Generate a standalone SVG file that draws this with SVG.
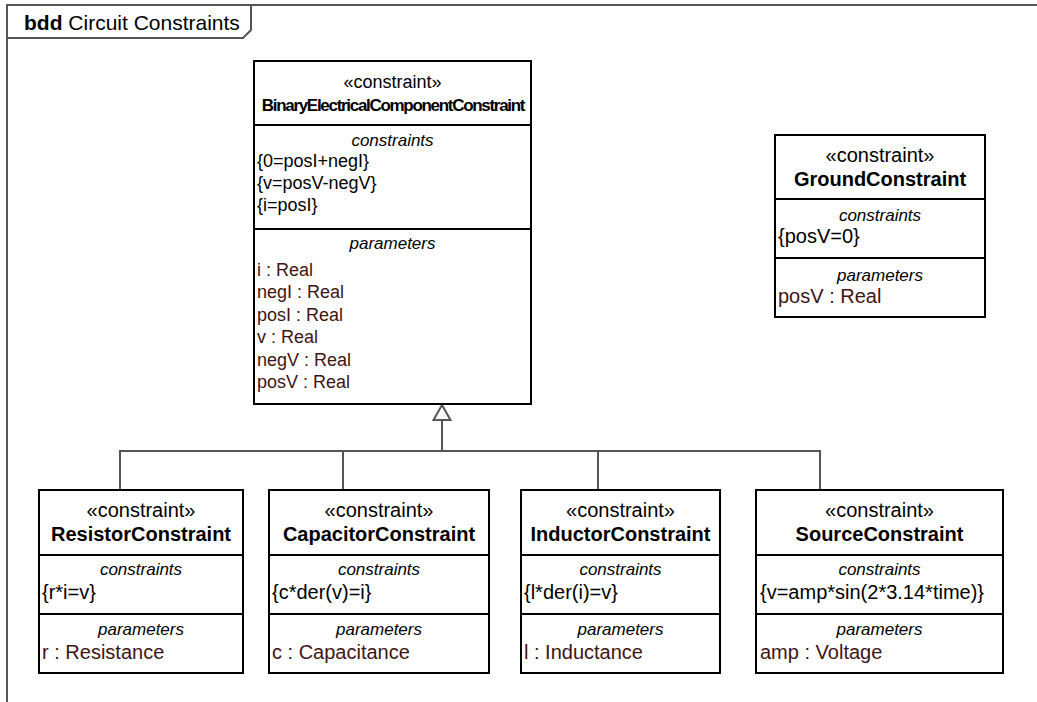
<svg xmlns="http://www.w3.org/2000/svg" width="1037" height="702" viewBox="0 0 1037 702">
<defs>
<style>
text{font-family:"Liberation Sans",Arial,sans-serif;font-size:20px;fill:#000}
.st{text-anchor:middle}
.nm{text-anchor:middle;font-weight:bold}
.lb{text-anchor:middle;font-style:italic;font-size:17px}
.pr{fill:#3f1414}
.m{font-size:18px}
.box{fill:#fff;stroke:#000;stroke-width:2}
.sep{stroke:#000;stroke-width:2}
.con{fill:none;stroke:#555;stroke-width:2}
.frame{fill:none;stroke:#555;stroke-width:2}
</style>
</defs>
<rect width="1037" height="702" fill="#fff"/>
<g id="frame">
<path class="frame" d="M7,710 V5 H1040"/>
<path class="frame" d="M7,38 H243 L251,30 V5"/>
<text x="24" y="30" style="font-size:21px"><tspan font-weight="bold">bdd</tspan> Circuit Constraints</text>
</g>
<g id="connectors">
<path class="con" d="M120,490 V451 H820 V490 M343,451 V490 M598,451 V490 M442,451 V420"/>
<path d="M442,405 L450.5,420 H433.5 Z" fill="#fff" stroke="#555" stroke-width="2"/>
</g>
<g id="BinaryElectricalComponentConstraint">
<rect class="box" x="254" y="61" width="277" height="343"/>
<line class="sep" x1="254" y1="125" x2="531" y2="125"/>
<line class="sep" x1="254" y1="229" x2="531" y2="229"/>
<text class="st m" x="392.5" y="88">«constraint»</text>
<text class="nm" x="393" y="111" style="font-size:17px;letter-spacing:-1.3px">BinaryElectricalComponentConstraint</text>
<text class="lb" x="392.5" y="146">constraints</text>
<text class="m" x="257" y="167">{0=posI+negI}</text>
<text class="m" x="257" y="189">{v=posV-negV}</text>
<text class="m" x="257" y="211">{i=posI}</text>
<text class="lb" x="392.5" y="249">parameters</text>
<text class="pr m" x="257" y="276">i : Real</text>
<text class="pr m" x="257" y="298">negI : Real</text>
<text class="pr m" x="257" y="321">posI : Real</text>
<text class="pr m" x="257" y="343">v : Real</text>
<text class="pr m" x="257" y="366">negV : Real</text>
<text class="pr m" x="257" y="388">posV : Real</text>
</g>
<g id="GroundConstraint">
<rect class="box" x="775" y="135" width="210" height="182"/>
<line class="sep" x1="775" y1="199" x2="985" y2="199"/>
<line class="sep" x1="775" y1="258" x2="985" y2="258"/>
<text class="st" x="880" y="162">«constraint»</text>
<text class="nm" x="880" y="186">GroundConstraint</text>
<text class="lb" x="880" y="221">constraints</text>
<text x="778" y="243">{posV=0}</text>
<text class="lb" x="880" y="281">parameters</text>
<text class="pr" x="778" y="303">posV : Real</text>
</g>
<g id="ResistorConstraint">
<rect class="box" x="39" y="490" width="204" height="183"/>
<line class="sep" x1="39" y1="555" x2="243" y2="555"/>
<line class="sep" x1="39" y1="614" x2="243" y2="614"/>
<text class="st" x="141" y="517">«constraint»</text>
<text class="nm" x="141" y="541">ResistorConstraint</text>
<text class="lb" x="141" y="575">constraints</text>
<text x="42" y="599">{r*i=v}</text>
<text class="lb" x="141" y="635">parameters</text>
<text class="pr" x="42" y="659">r : Resistance</text>
</g>
<g id="CapacitorConstraint">
<rect class="box" x="269" y="490" width="220" height="183"/>
<line class="sep" x1="269" y1="555" x2="489" y2="555"/>
<line class="sep" x1="269" y1="614" x2="489" y2="614"/>
<text class="st" x="379" y="517">«constraint»</text>
<text class="nm" x="379" y="541">CapacitorConstraint</text>
<text class="lb" x="379" y="575">constraints</text>
<text x="272" y="599">{c*der(v)=i}</text>
<text class="lb" x="379" y="635">parameters</text>
<text class="pr" x="272" y="659">c : Capacitance</text>
</g>
<g id="InductorConstraint">
<rect class="box" x="521" y="490" width="199" height="183"/>
<line class="sep" x1="521" y1="555" x2="720" y2="555"/>
<line class="sep" x1="521" y1="614" x2="720" y2="614"/>
<text class="st" x="620.5" y="517">«constraint»</text>
<text class="nm" x="620.5" y="541">InductorConstraint</text>
<text class="lb" x="620.5" y="575">constraints</text>
<text x="524" y="599">{l*der(i)=v}</text>
<text class="lb" x="620.5" y="635">parameters</text>
<text class="pr" x="524" y="659">l : Inductance</text>
</g>
<g id="SourceConstraint">
<rect class="box" x="756" y="490" width="247" height="183"/>
<line class="sep" x1="756" y1="555" x2="1003" y2="555"/>
<line class="sep" x1="756" y1="614" x2="1003" y2="614"/>
<text class="st" x="879.5" y="517">«constraint»</text>
<text class="nm" x="879.5" y="541">SourceConstraint</text>
<text class="lb" x="879.5" y="575">constraints</text>
<text x="760" y="599">{v=amp*sin(2*3.14*time)}</text>
<text class="lb" x="879.5" y="635">parameters</text>
<text class="pr" x="760" y="659">amp : Voltage</text>
</g>
</svg>
